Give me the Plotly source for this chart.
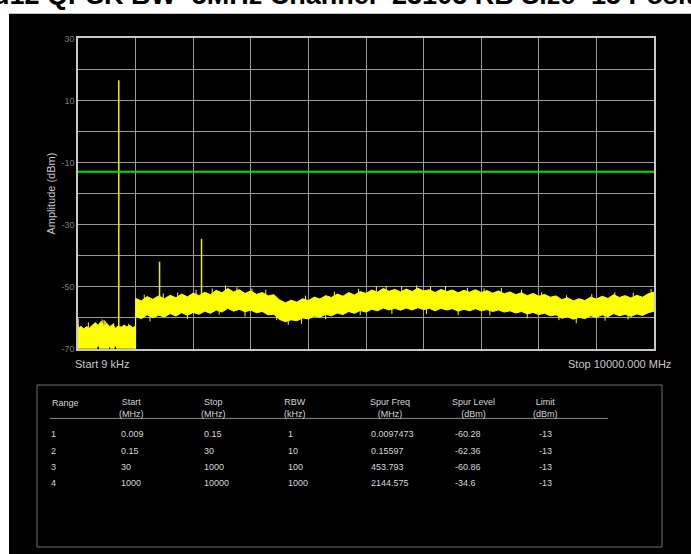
import numpy as np
import plotly.graph_objects as go

W, H = 691, 554

# ---- sweep data -------------------------------------------------------------
# Ranges 1-3 (9 kHz .. 1000 MHz) share the low noise floor
low_freq = [0.009, 50, 100, 150, 200, 250, 300, 350, 400, 450, 500,
            550, 600, 650, 700, 750, 800, 850, 900, 950, 1000]
low_upper = [-63.5, -62.8, -63.6, -62.9, -63.3, -62.4, -61.6, -62.5, -61.2, -62.6, -61.8,
             -62.9, -62.2, -63.4, -62.6, -63.1, -62.4, -63.0, -62.5, -63.2, -62.8]
low_lower = [-71, -71, -71, -71, -71, -71, -71, -68.6, -71, -71, -71,
             -69.2, -71, -68.8, -71, -71, -71, -71, -71, -71, -71]

# Range 4 (1000 .. 10000 MHz), RBW 1 MHz
high_freq = list(range(1000, 10001, 100))
high_upper = [-53.8, -54.6, -53.2, -54.1, -53.0, -53.9, -52.8, -53.6, -52.4, -53.3,
              -52.1, -52.9, -51.8, -52.6, -51.2, -52.0, -50.6, -51.7, -51.0, -52.2,
              -51.4, -52.5, -51.9, -53.0, -52.6, -54.3, -55.2, -54.4, -55.0, -53.9,
              -54.5, -53.4, -54.0, -52.9, -53.5, -52.4, -53.1, -51.9, -52.7, -51.6,
              -52.2, -51.1, -51.8, -50.6, -51.5, -50.9, -51.7, -50.8, -51.6, -50.5,
              -51.4, -51.0, -51.9, -50.9, -51.6, -51.1, -52.0, -51.2, -51.8, -51.0,
              -51.9, -51.3, -52.1, -51.4, -52.3, -51.7, -52.6, -52.0, -52.9, -52.2,
              -53.1, -52.5, -53.4, -53.0, -54.2, -53.6, -54.6, -53.9, -54.5, -53.4,
              -54.0, -53.1, -53.8, -52.6, -53.5, -52.9, -53.7, -52.8, -53.4, -52.3,
              -51.8]
high_lower = [-59.6, -60.3, -59.1, -60.0, -59.2, -59.8, -58.7, -59.5, -58.4, -59.2,
              -58.3, -58.9, -57.9, -58.6, -57.5, -58.2, -57.0, -57.9, -57.3, -58.1,
              -57.6, -58.4, -58.0, -59.1, -58.9, -60.6, -61.3, -60.7, -61.0, -60.1,
              -60.4, -59.5, -59.9, -58.9, -59.4, -58.5, -59.0, -58.0, -58.6, -57.7,
              -58.2, -57.3, -57.8, -56.9, -57.5, -57.0, -57.6, -56.9, -57.5, -56.8,
              -57.4, -57.0, -57.8, -57.0, -57.5, -57.1, -57.9, -57.3, -57.8, -57.1,
              -57.8, -57.4, -58.0, -57.5, -58.2, -57.8, -58.5, -58.0, -58.8, -58.3,
              -59.0, -58.6, -59.4, -59.1, -60.2, -59.7, -60.5, -59.9, -60.3, -59.4,
              -59.9, -59.1, -59.7, -58.7, -59.4, -58.9, -59.6, -58.8, -59.3, -58.4,
              -57.9]

# isolated noise peaks above the band and dips below it (MHz, dBm)
peak_freq = [180, 420, 480, 620, 880,
             1150, 1480, 1730, 2050, 2330, 2560, 2760, 3020, 3260, 3950, 4450, 4870,
             5180, 5350, 5620, 5880, 6120, 6380, 6760, 7050, 7350, 7700, 8050, 8480,
             8920, 9320, 9640, 9950]
peak_level = [-61.5, -60.6, -61.2, -61.8, -62.0,
              -52.6, -52.2, -51.9, -51.0, -50.6, -49.6, -50.2, -50.6, -51.0, -52.9, -51.6, -50.7,
              -50.0, -49.7, -49.9, -49.6, -50.1, -49.9, -50.4, -50.6, -50.4, -51.0, -51.8, -52.8,
              -52.4, -51.8, -52.0, -50.8]
dip_freq = [1250, 1900, 2450, 2900, 3450, 3650, 3880, 4300, 4900, 5450, 6050, 6600,
            7150, 7800, 8350, 8650, 9150, 9550]
dip_level = [-61.2, -60.4, -59.0, -59.6, -60.8, -62.3, -62.0, -60.5, -59.2, -58.8, -58.8, -59.2,
             -59.3, -60.2, -60.8, -61.8, -61.0, -60.6]

# Carrier and its 2nd harmonic (MHz, dBm)
carrier_freq = [708, 1416]
carrier_level = [16.5, -42.0]

# ---- result table -----------------------------------------------------------
range_ids = [1, 2, 3, 4]
start_mhz = ["0.009", "0.15", "30", "1000"]
stop_mhz = ["0.15", "30", "1000", "10000"]
rbw_khz = ["1", "10", "100", "1000"]
spur_freq = [0.0097473, 0.15597, 453.793, 2144.575]
spur_level = [-60.28, -62.36, -60.86, -34.6]
limit_dbm = [-13, -13, -13, -13]

title_text = "Band12 QPSK BW=5MHz Channel=23103 RB Size=15 Position=0"
y_ticks = list(range(-70, 31, 10))
y_tick_text = [str(v) if v % 20 == 10 else "" for v in y_ticks]
x_grid = list(range(0, 10001, 1000))


def px(x):
    return x / W


def py(y):
    return 1 - y / H


YELLOW = "#ffff00"
GRID = "#9a9a9a"
TXT = "#d6d6d6"
FONT = "Liberation Sans, Arial, sans-serif"

band_x = low_freq + high_freq
band_lo = low_lower + high_lower
band_hi = low_upper + high_upper
# centre of the band (used as the foot of the vertical hairs); the step at
# 1000 MHz is resolved to the range-4 side
band_mid_x = low_freq[:-1] + high_freq
band_mid_y = [(a + b) / 2 for a, b in zip(low_lower[:-1] + high_lower,
                                         low_upper[:-1] + high_upper)]


def band_mid(f):
    return float(np.interp(f, band_mid_x, band_mid_y))


def band_top(f):
    return float(np.interp(f, band_mid_x, low_upper[:-1] + high_upper))


def vlines(freqs, levels, foot):
    xs, ys = [], []
    for f, lvl in zip(freqs, levels):
        xs += [f, f, None]
        ys += [foot(f), lvl, None]
    return xs, ys


fig = go.Figure()

# noise band: lower edge, then upper edge filled down to it
fig.add_trace(go.Scatter(x=band_x, y=band_lo, mode="lines",
                         line=dict(color=YELLOW, width=1), hoverinfo="skip"))
fig.add_trace(go.Scatter(x=band_x, y=band_hi, mode="lines", fill="tonexty",
                         fillcolor=YELLOW, line=dict(color=YELLOW, width=1),
                         hoverinfo="skip"))

# noise hairs
hx, hy = vlines(peak_freq + dip_freq, peak_level + dip_level, band_mid)
fig.add_trace(go.Scatter(x=hx, y=hy, mode="lines",
                         line=dict(color=YELLOW, width=1), hoverinfo="skip"))

# discrete spectral lines (carrier, harmonic, reported spurs)
sx, sy = vlines(carrier_freq + spur_freq, carrier_level + spur_level, band_top)
fig.add_trace(go.Scatter(x=sx, y=sy, mode="lines",
                         line=dict(color="#eeee00", width=1.5), hoverinfo="skip"))

# limit line
fig.add_trace(go.Scatter(x=[0.009, 10000], y=[limit_dbm[0], limit_dbm[0]], mode="lines",
                         line=dict(color="#00e000", width=2), hoverinfo="skip"))

shapes = [
    # black instrument panel
    dict(type="rect", xref="paper", yref="paper", x0=px(9), x1=1.01, y0=-0.01, y1=py(9),
         fillcolor="black", line=dict(width=0), layer="below"),
    # table frame
    dict(type="rect", xref="paper", yref="paper", x0=px(37), x1=px(662), y0=py(552), y1=py(387),
         line=dict(color="#6e6e6e", width=1)),
    # table header separator
    dict(type="line", xref="paper", yref="paper", x0=px(50), x1=px(608), y0=py(421), y1=py(421),
         line=dict(color="#8a8a8a", width=1)),
]

ann = []
ann.append(dict(text=f"<b>{title_text}</b>", x=px(-60), y=py(-10), xref="paper", yref="paper",
                xanchor="left", yanchor="middle", showarrow=False,
                font=dict(family=FONT, size=27, color="black")))
ann.append(dict(text="Amplitude (dBm)", x=px(43), y=py(192), xref="paper", yref="paper",
                textangle=-90, showarrow=False,
                font=dict(family=FONT, size=11, color="#c8c8c8")))
ann.append(dict(text="Start 9 kHz", x=px(73), y=py(366), xref="paper", yref="paper",
                xanchor="left", yanchor="middle", showarrow=False,
                font=dict(family=FONT, size=11, color="#c8c8c8")))
ann.append(dict(text="Stop 10000.000 MHz", x=px(673), y=py(366), xref="paper", yref="paper",
                xanchor="right", yanchor="middle", showarrow=False,
                font=dict(family=FONT, size=11, color="#c8c8c8")))

# table headers
headers = [("Range", 50, "left"), ("Start<br>(MHz)", 131, "center"),
           ("Stop<br>(MHz)", 213, "center"), ("RBW<br>(kHz)", 295, "center"),
           ("Spur Freq<br>(MHz)", 390, "center"), ("Spur Level<br>(dBm)", 473, "center"),
           ("Limit<br>(dBm)", 545, "center")]
for text, x, anchor in headers:
    two = "<br>" in text
    ann.append(dict(text=text, x=px(x), y=py(410 if two else 405), xref="paper", yref="paper",
                    xanchor=anchor, yanchor="middle", align="center", showarrow=False,
                    font=dict(family=FONT, size=9, color=TXT)))

col_x = [49, 119, 202, 286, 369, 453, 537]
row_y = [437, 454, 470, 487]
for i in range(len(range_ids)):
    cells = [str(range_ids[i]), start_mhz[i], stop_mhz[i], rbw_khz[i],
             str(spur_freq[i]), str(spur_level[i]), str(limit_dbm[i])]
    for c, text in enumerate(cells):
        ann.append(dict(text=text, x=px(col_x[c]), y=py(row_y[i]), xref="paper", yref="paper",
                        xanchor="left", yanchor="middle", showarrow=False,
                        font=dict(family=FONT, size=9, color=TXT)))

fig.update_layout(
    width=W, height=H, margin=dict(l=0, r=0, t=0, b=0),
    paper_bgcolor="white", plot_bgcolor="black", showlegend=False,
    shapes=shapes, annotations=ann,
    xaxis=dict(domain=[px(78), px(654)], range=[0.009, 10000], tickmode="array",
               tickvals=x_grid, showticklabels=False, ticks="",
               showgrid=True, gridcolor=GRID, gridwidth=1, zeroline=False,
               showline=True, mirror=True, linecolor="#c8c8c8", linewidth=1.5),
    yaxis=dict(domain=[py(350), py(34)], range=[-70, 30], tickmode="array",
               tickvals=y_ticks, ticktext=y_tick_text, ticks="",
               tickfont=dict(family=FONT, size=9, color="#7c7c7c"),
               showgrid=True, gridcolor=GRID, gridwidth=1, zeroline=False,
               showline=True, mirror=True, linecolor="#c8c8c8", linewidth=1.5),
)

fig.write_html("out.html")
